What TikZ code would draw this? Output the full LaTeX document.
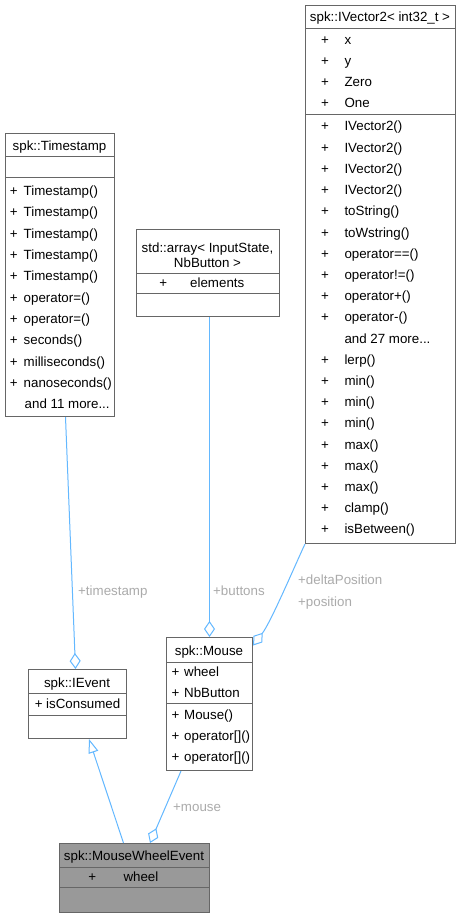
\documentclass[tikz,border=0pt]{standalone}
\usepackage{fontspec}
\setmainfont{Liberation Sans}
\usetikzlibrary{arrows.meta}
\definecolor{boxgray}{HTML}{666666}
\definecolor{edgeblue}{HTML}{63B8FF}
\definecolor{labgray}{HTML}{ABABAB}
\definecolor{mwefill}{HTML}{999999}
\newcommand\mytrow[4]{\node[txt,anchor=base west] (#1) at (#2,{#3+4.7}) {#4};}
\newcommand\myplus[3]{\node[txt,anchor=base] (#1) at (#2,{#3+4.7}) {+};}
\begin{document}
\begin{tikzpicture}[x=1pt,y=-1pt,
  cls/.style={draw=boxgray, line width=1pt, fill=white, inner sep=0pt, anchor=north west},
  sepline/.style={draw=boxgray, line width=1pt},
  txt/.style={inner sep=0pt, font=\fontsize{13.33}{16}\selectfont, text=black},
  lbl/.style={txt, text=labgray},
  edge/.style={draw=edgeblue, line width=1pt},
  agg/.style={edge, -{Diamond[open, length=16pt, width=11pt, line width=1pt]}},
  inh/.style={edge, -{Triangle[open, length=14pt, width=10pt, line width=1pt]}},
]
\useasboundingbox[fill=white] (0,0) rectangle (461,917);

% ---------- spk::IVector2< int32_t >
\node[cls, minimum width=150pt, minimum height=538pt] (iv) at (305,5) {};
\draw[sepline] (305,29) -- (455,29);
\draw[sepline] (305,115) -- (455,115);
\node[txt,anchor=base] (iv-t) at (380,{17+4.7}) {spk::IVector2< int32\_t >};
\foreach \t [count=\i from 0] in {x,y,Zero,One} {
  \myplus{iv-ap\i}{325}{40+21*\i}
  \mytrow{iv-a\i}{344.3}{40+21*\i}{\t}
}
\foreach \t [count=\i from 0] in {IVector2(),IVector2(),IVector2(),IVector2(),toString(),toWstring(),operator==(),operator!=(),operator+(),operator-()} {
  \myplus{iv-mp\i}{325}{126.3+21.2*\i}
  \mytrow{iv-m\i}{344.3}{126.3+21.2*\i}{\t}
}
\mytrow{iv-more}{344.3}{126.3+21.2*10}{and 27 more...}
\foreach \t [count=\i from 11] in {lerp(),min(),min(),min(),max(),max(),max(),clamp(),isBetween()} {
  \myplus{iv-mp\i}{325}{126.3+21.2*\i}
  \mytrow{iv-m\i}{344.3}{126.3+21.2*\i}{\t}
}

% ---------- spk::Timestamp
\node[cls, minimum width=109pt, minimum height=283pt] (ts) at (5,133) {};
\draw[sepline] (5,157) -- (114,157);
\draw[sepline] (5,178) -- (114,178);
\node[txt,anchor=base] (ts-t) at (59.5,{146+4.7}) {spk::Timestamp};
\foreach \t [count=\i from 0] in {Timestamp(),Timestamp(),Timestamp(),Timestamp(),Timestamp(),operator=(),operator=(),seconds(),milliseconds(),nanoseconds()} {
  \myplus{ts-mp\i}{13.7}{191+21.3*\i}
  \mytrow{ts-m\i}{23.5}{191+21.3*\i}{\t}
}
\mytrow{ts-more}{24.5}{191+21.3*10}{and 11 more...}

% ---------- std::array< InputState, NbButton >
\node[cls, minimum width=143pt, minimum height=87pt] (arr) at (136,229) {};
\draw[sepline] (136,273) -- (279,273);
\draw[sepline] (136,293) -- (279,293);
\node[txt,anchor=base] (arr-t1) at (207.5,{248+4.7}) {std::array< InputState,};
\node[txt,anchor=base] (arr-t2) at (207.5,{263+4.7}) {NbButton >};
\myplus{arr-ap}{163.3}{282.5}
\mytrow{arr-a}{190}{282.5}{elements}

% ---------- spk::Mouse
\node[cls, minimum width=86pt, minimum height=133pt] (mouse) at (166,637) {};
\draw[sepline] (166,662) -- (252,662);
\draw[sepline] (166,703) -- (252,703);
\node[txt,anchor=base] (mouse-t) at (209,{650.5+4.7}) {spk::Mouse};
\myplus{mouse-ap0}{175.5}{672}
\mytrow{mouse-a0}{184}{672}{wheel}
\myplus{mouse-ap1}{175.5}{693}
\mytrow{mouse-a1}{184}{693}{NbButton}
\myplus{mouse-mp0}{175.5}{715}
\mytrow{mouse-m0}{184}{715}{Mouse()}
\myplus{mouse-mp1}{175.5}{736}
\mytrow{mouse-m1}{184}{736}{operator[]()}
\myplus{mouse-mp2}{175.5}{757}
\mytrow{mouse-m2}{184}{757}{operator[]()}

% ---------- spk::IEvent
\node[cls, minimum width=98pt, minimum height=69pt] (ev) at (28,669) {};
\draw[sepline] (28,693) -- (126,693);
\draw[sepline] (28,715) -- (126,715);
\node[txt,anchor=base] (ev-t) at (77,{682.3+4.7}) {spk::IEvent};
\myplus{ev-ap}{38.8}{704}
\mytrow{ev-a}{46}{704}{isConsumed}

% ---------- spk::MouseWheelEvent
\node[cls, fill=mwefill, minimum width=150pt, minimum height=69pt] (mwe) at (59,843) {};
\draw[sepline] (59,867) -- (209,867);
\draw[sepline] (59,887) -- (209,887);
\node[txt,anchor=base] (mwe-t) at (134,{856+4.7}) {spk::MouseWheelEvent};
\myplus{mwe-ap}{92.3}{877}
\mytrow{mwe-a}{123.3}{877}{wheel}

% ---------- connectors
\draw[agg] ([xshift=5.5pt]ts.south) -- ([xshift=-2pt]ev.north);
\draw[agg] ([xshift=1.5pt]arr.south) -- (mouse.north);
\draw[agg] (iv.south west) .. controls (296,563) and (271,622) .. ([yshift=-8.5pt]mouse.north east);
\draw[agg] ([xshift=-28.5pt]mouse.south) -- ([xshift=15.5pt]mwe.north);
\draw[inh] ([xshift=-11pt]mwe.north) -- ([xshift=11.5pt]ev.south);

% ---------- labels
\mytrow{l-ts}{78}{591}{\color{labgray}+timestamp}
\mytrow{l-btn}{213}{591}{\color{labgray}+buttons}
\mytrow{l-dp}{298}{579.5}{\color{labgray}+deltaPosition}
\mytrow{l-pos}{298}{601.5}{\color{labgray}+position}
\mytrow{l-m}{173}{807}{\color{labgray}+mouse}
\end{tikzpicture}
\end{document}
